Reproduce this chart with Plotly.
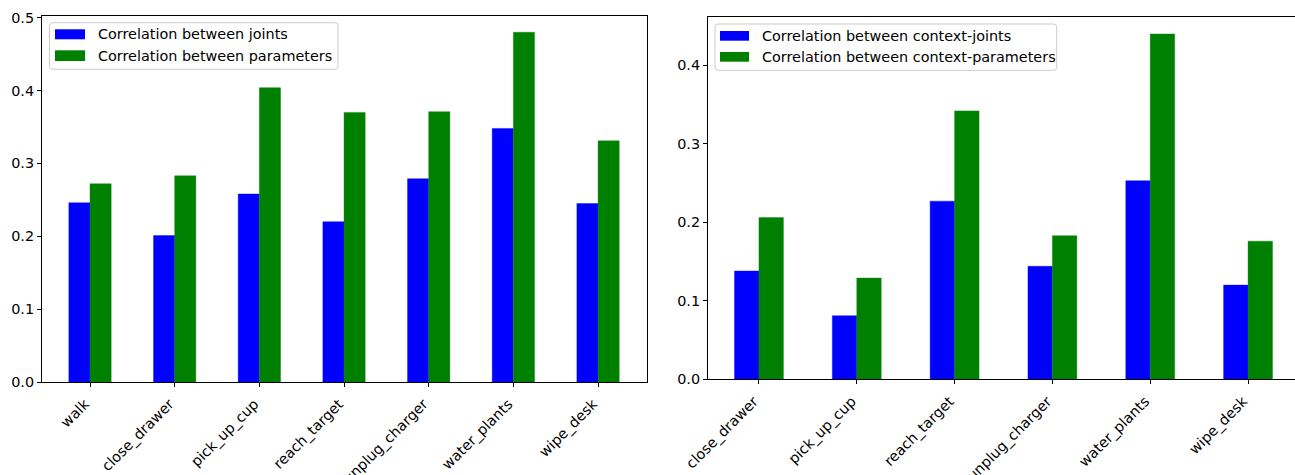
import plotly.graph_objects as go

W, H = 1295, 475

# Left panel: per-task correlations
tasks_left = ["walk", "close_drawer", "pick_up_cup", "reach_target",
              "unplug_charger", "water_plants", "wipe_desk"]
joints_corr = [0.246, 0.201, 0.258, 0.220, 0.279, 0.348, 0.245]
params_corr = [0.272, 0.283, 0.404, 0.370, 0.371, 0.480, 0.331]
left_names = ["Correlation between joints", "Correlation between parameters"]

# Right panel: context correlations
tasks_right = ["close_drawer", "pick_up_cup", "reach_target",
               "unplug_charger", "water_plants", "wipe_desk"]
ctx_joints_corr = [0.138, 0.081, 0.227, 0.144, 0.253, 0.120]
ctx_params_corr = [0.206, 0.129, 0.342, 0.183, 0.440, 0.176]
right_names = ["Correlation between context-joints", "Correlation between context-parameters"]

BLUE = "#0000ff"
GREEN = "#008000"
FONT = "DejaVu Sans"
FS = 14.4


def px(x):
    return x / W


def py(y):
    return 1 - y / H


fig = go.Figure()


def bar(x, y, color, xa, ya, group):
    return go.Bar(x=x, y=y, marker=dict(color=color, line=dict(color=color, width=0.4)),
                  xaxis=xa, yaxis=ya, offsetgroup=group, showlegend=False)


fig.add_trace(bar(tasks_left, joints_corr, BLUE, "x", "y", "a"))
fig.add_trace(bar(tasks_left, params_corr, GREEN, "x", "y", "b"))
fig.add_trace(bar(tasks_right, ctx_joints_corr, BLUE, "x2", "y2", "a"))
fig.add_trace(bar(tasks_right, ctx_params_corr, GREEN, "x2", "y2", "b"))

axis_common = dict(
    showline=True, linecolor="black", linewidth=1,
    ticks="outside", ticklen=4, tickwidth=1, tickcolor="black",
    showgrid=False, zeroline=False, automargin=False,
    tickfont=dict(family=FONT, size=FS, color="black"),
)
xtick_style = dict(tickangle=-45, ticklabelshift=-5, ticklabelstandoff=3)

fig.update_layout(
    width=W, height=H,
    margin=dict(l=0, r=0, t=0, b=0, autoexpand=False),
    paper_bgcolor="white", plot_bgcolor="white",
    barmode="group", bargap=0.5, bargroupgap=0,
    showlegend=False,
    xaxis=dict(axis_common, **xtick_style, domain=[px(42), px(647)], anchor="y",
               range=[-0.567, 6.578], mirror=True),
    yaxis=dict(axis_common, domain=[py(382), py(15.5)], anchor="x",
               range=[0, 0.503], dtick=0.1, tickformat=".1f", mirror=True),
    xaxis2=dict(axis_common, **xtick_style, domain=[px(708), 1.0], anchor="y2",
                range=[-0.521, 5.48], mirror=True),
    yaxis2=dict(axis_common, domain=[py(379.3), py(16.7)], anchor="x2",
                range=[0, 0.462], dtick=0.1, tickformat=".1f"),
)


def rounded_rect(x0, y0, x1, y1, r=3):
    # path in pixel space converted to paper coordinates
    pts = [
        f"M{px(x0 + r)},{py(y0)}",
        f"L{px(x1 - r)},{py(y0)}",
        f"Q{px(x1)},{py(y0)} {px(x1)},{py(y0 + r)}",
        f"L{px(x1)},{py(y1 - r)}",
        f"Q{px(x1)},{py(y1)} {px(x1 - r)},{py(y1)}",
        f"L{px(x0 + r)},{py(y1)}",
        f"Q{px(x0)},{py(y1)} {px(x0)},{py(y1 - r)}",
        f"L{px(x0)},{py(y0 + r)}",
        f"Q{px(x0)},{py(y0)} {px(x0 + r)},{py(y0)}",
        "Z",
    ]
    return " ".join(pts)


def add_legend(box, patch_x, rows, text_x, names, colors):
    fig.add_shape(type="path", xref="paper", yref="paper",
                  path=rounded_rect(*box), line=dict(color="#cccccc", width=1),
                  fillcolor="rgba(255,255,255,0.8)", layer="above")
    for (ytop, ybot, ytext), name, col in zip(rows, names, colors):
        fig.add_shape(type="rect", xref="paper", yref="paper",
                      x0=px(patch_x[0]), x1=px(patch_x[1]), y0=py(ybot), y1=py(ytop),
                      fillcolor=col, line=dict(width=0), layer="above")
        fig.add_annotation(xref="paper", yref="paper", x=px(text_x), y=py(ytext),
                           text=name, showarrow=False, xanchor="left", yanchor="middle",
                           font=dict(family=FONT, size=FS, color="black"))


add_legend((49.5, 22.7, 338, 69.3), (55, 85),
           [(29.3, 39.3, 34.3), (50.3, 61, 55.7)], 95.5, left_names, [BLUE, GREEN])
add_legend((715, 24, 1056.7, 70.3), (720, 749),
           [(31, 40.7, 35.8), (52, 61.7, 56.8)], 760, right_names, [BLUE, GREEN])

fig.write_html("out.html")
